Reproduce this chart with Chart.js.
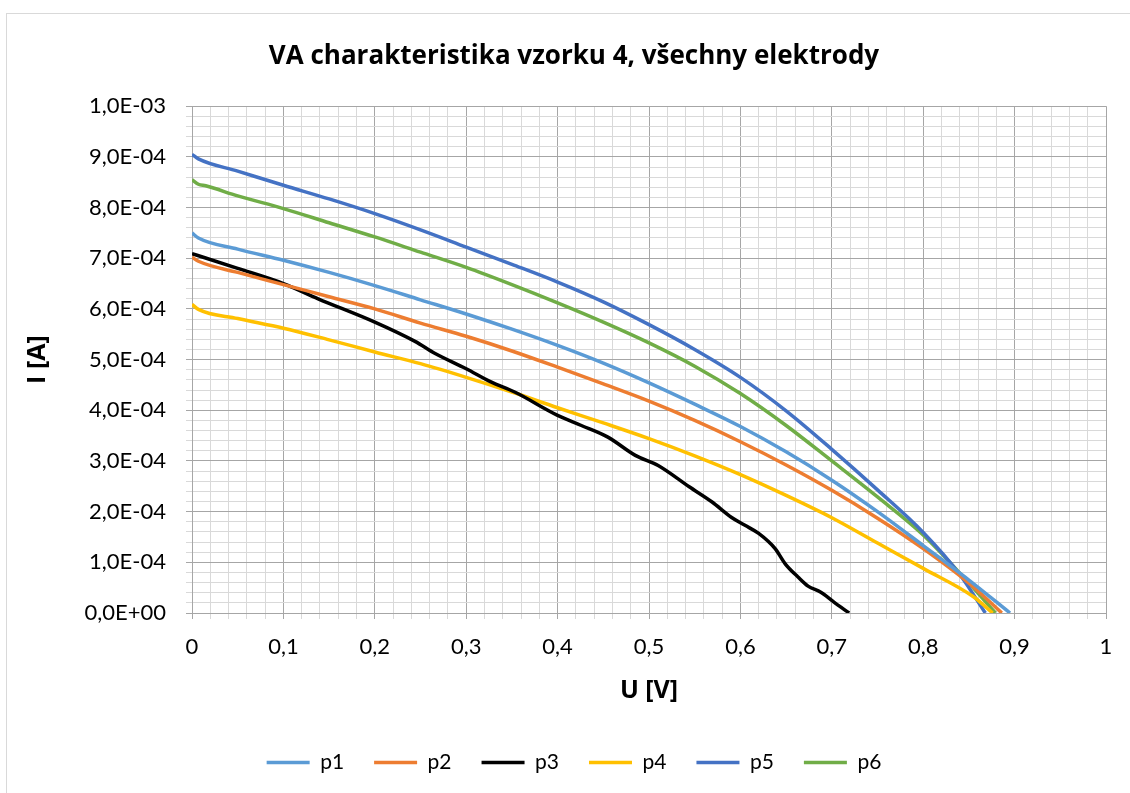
<!DOCTYPE html>
<html>
<head>
<meta charset="utf-8">
<script src="https://cdn.jsdelivr.net/npm/chart.js@4/dist/chart.umd.min.js"></script>
<style>
  html, body { margin: 0; padding: 0; background: #fff; overflow: hidden; }
  #frame { position: absolute; left: 6px; top: 13px; width: 1200px; height: 900px;
           border-left: 1px solid #d9d9d9; border-top: 1px solid #d9d9d9; }
  #chart { position: absolute; left: 0; top: 0; }
</style>
</head>
<body>
<div id="frame"></div>
<canvas id="chart" width="1130" height="793"></canvas>
<script>
// U [V] and I [A]
const U_P1 = [0, 0.007, 0.05, 0.1, 0.15, 0.2, 0.25, 0.3, 0.35, 0.4, 0.45, 0.5, 0.55, 0.6, 0.65, 0.7, 0.75, 0.8, 0.85, 0.895];
const I_P1 = [7.50e-4, 7.40e-4, 7.18e-4, 6.96e-4, 6.72e-4, 6.46e-4, 6.18e-4, 5.90e-4, 5.60e-4, 5.28e-4, 4.93e-4, 4.54e-4, 4.12e-4, 3.68e-4, 3.18e-4, 2.62e-4, 2.00e-4, 1.33e-4, 0.65e-4, 0];

const U_P2 = [0, 0.007, 0.05, 0.1, 0.15, 0.2, 0.25, 0.3, 0.35, 0.4, 0.45, 0.5, 0.55, 0.6, 0.65, 0.7, 0.75, 0.8, 0.85, 0.886];
const I_P2 = [7.02e-4, 6.94e-4, 6.72e-4, 6.48e-4, 6.24e-4, 6.00e-4, 5.72e-4, 5.46e-4, 5.17e-4, 4.85e-4, 4.52e-4, 4.18e-4, 3.80e-4, 3.38e-4, 2.92e-4, 2.42e-4, 1.87e-4, 1.27e-4, 0.59e-4, 0];

const U_P3 = [0, 0.014, 0.05, 0.1, 0.138, 0.2, 0.244, 0.266, 0.3, 0.327, 0.353, 0.4, 0.426, 0.455, 0.485, 0.51, 0.544, 0.569, 0.59, 0.605, 0.62, 0.638, 0.649, 0.663, 0.674, 0.688, 0.702, 0.719];
const I_P3 = [7.09e-4, 7.01e-4, 6.80e-4, 6.50e-4, 6.20e-4, 5.74e-4, 5.36e-4, 5.12e-4, 4.82e-4, 4.56e-4, 4.36e-4, 3.90e-4, 3.70e-4, 3.47e-4, 3.11e-4, 2.91e-4, 2.49e-4, 2.19e-4, 1.89e-4, 1.73e-4, 1.57e-4, 1.27e-4, 0.97e-4, 0.71e-4, 0.53e-4, 0.41e-4, 0.22e-4, 0];

const U_P4 = [0, 0.007, 0.05, 0.1, 0.15, 0.2, 0.25, 0.3, 0.35, 0.4, 0.45, 0.5, 0.55, 0.6, 0.65, 0.7, 0.75, 0.8, 0.855, 0.876];
const I_P4 = [6.09e-4, 5.99e-4, 5.81e-4, 5.62e-4, 5.39e-4, 5.15e-4, 4.92e-4, 4.65e-4, 4.36e-4, 4.05e-4, 3.75e-4, 3.44e-4, 3.10e-4, 2.73e-4, 2.32e-4, 1.88e-4, 1.38e-4, 0.88e-4, 0.32e-4, 0];

const U_P5 = [0, 0.007, 0.05, 0.1, 0.15, 0.2, 0.25, 0.3, 0.35, 0.4, 0.45, 0.5, 0.55, 0.6, 0.65, 0.7, 0.75, 0.8, 0.84, 0.868];
const I_P5 = [9.05e-4, 8.96e-4, 8.72e-4, 8.44e-4, 8.17e-4, 7.88e-4, 7.56e-4, 7.22e-4, 6.88e-4, 6.53e-4, 6.14e-4, 5.69e-4, 5.20e-4, 4.65e-4, 3.99e-4, 3.23e-4, 2.43e-4, 1.59e-4, 0.76e-4, 0];

const U_P6 = [0, 0.007, 0.015, 0.05, 0.1, 0.15, 0.2, 0.25, 0.3, 0.35, 0.4, 0.45, 0.5, 0.55, 0.6, 0.65, 0.7, 0.75, 0.8, 0.85, 0.879];
const I_P6 = [8.55e-4, 8.46e-4, 8.43e-4, 8.23e-4, 7.98e-4, 7.70e-4, 7.42e-4, 7.12e-4, 6.82e-4, 6.48e-4, 6.12e-4, 5.74e-4, 5.33e-4, 4.87e-4, 4.33e-4, 3.70e-4, 3.00e-4, 2.29e-4, 1.54e-4, 0.59e-4, 0];

const seriesNames = ["p1", "p2", "p3", "p4", "p5", "p6"];
const seriesColors = ["#5B9BD5", "#ED7D31", "#000000", "#FFC000", "#4472C4", "#70AD47"];
const seriesU = [U_P1, U_P2, U_P3, U_P4, U_P5, U_P6];
const seriesI = [I_P1, I_P2, I_P3, I_P4, I_P5, I_P6];

// axis ticks: every 5th one is a major (labelled) tick
const xTicks = [];
for (let k = 0; k <= 50; k++) xTicks.push(k / 50);
const yTicks = [];
for (let k = 0; k <= 50; k++) yTicks.push(k * 2e-5);

const MAJOR = "#a6a6a6";
const MINOR = "#d9d9d9";
const FONT = "Lato, 'Open Sans', sans-serif";
const TITLE_FONT = "'Open Sans', Lato, sans-serif";

function xLabel(k) {
	if (k % 5 !== 0) return "";
	const v = k / 50;
	if (v === 0 || v === 1) return String(v);
	return v.toFixed(1).replace(".", ",");
}

function yLabel(v) {
	let s = v.toExponential(1);
	let [m, e] = s.split("e");
	let sign = e[0] === "-" ? "-" : "+";
	e = e.replace(/[-+]/, "");
	if (e.length < 2) e = "0" + e;
	return m.replace(".", ",") + "E" + sign + e;
}

const datasets = seriesNames.map((name, i) => ({
	label: name,
	data: seriesU[i].map((u, j) => ({ x: u, y: seriesI[i][j] })),
	borderColor: seriesColors[i],
	backgroundColor: seriesColors[i],
	borderWidth: 3.5,
	pointRadius: 0,
	cubicInterpolationMode: "monotone",
	fill: false,
}));

const gridColor = (ctx) => (ctx.index % 5 === 0 ? MAJOR : MINOR);

new Chart(document.getElementById("chart"), {
	type: "line",
	data: { datasets },
	options: {
		responsive: false,
		animation: false,
		layout: { padding: { left: 42, right: 24, top: 0, bottom: 10 } },
		plugins: {
			title: {
				display: true,
				text: "VA charakteristika vzorku 4, všechny elektrody",
				color: "#000",
				font: { family: TITLE_FONT, size: 26, weight: "bold" },
				padding: { top: 41, bottom: 34 },
			},
			legend: {
				position: "bottom",
				labels: {
					usePointStyle: true,
					pointStyle: "line",
					pointStyleWidth: 43,
					padding: 30,
					color: "#000",
					font: { family: FONT, size: 21 },
				},
			},
			tooltip: { enabled: false },
		},
		scales: {
			x: {
				type: "linear",
				min: 0,
				max: 1,
				afterBuildTicks: (scale) => { scale.ticks = xTicks.map(v => ({ value: v })); },
				afterFit: (scale) => { scale.height = 109; },
				ticks: {
					autoSkip: false,
					maxRotation: 0,
					padding: 15,
					color: "#000",
					font: { family: FONT, size: 22 },
					callback: (v, k) => xLabel(k),
				},
				grid: { color: gridColor, tickColor: gridColor, tickLength: 6, lineWidth: 1 },
				border: { color: MAJOR },
				title: {
					display: true,
					text: "U [V]",
					color: "#000",
					font: { family: TITLE_FONT, size: 25, weight: "bold" },
					padding: { top: 0, bottom: 16 },
				},
			},
			y: {
				type: "linear",
				min: 0,
				max: 1e-3,
				afterBuildTicks: (scale) => { scale.ticks = yTicks.map(v => ({ value: v })); },
				afterFit: (scale) => { scale.width = 150; },
				ticks: {
					autoSkip: false,
					padding: 20,
					color: "#000",
					font: { family: FONT, size: 22 },
					callback: (v, k) => (k % 5 === 0 ? yLabel(v) : ""),
				},
				grid: { color: gridColor, tickColor: gridColor, tickLength: 6, lineWidth: 1 },
				border: { color: MAJOR },
				title: {
					display: true,
					text: "I [A]",
					color: "#000",
					font: { family: TITLE_FONT, size: 25, weight: "bold" },
					padding: { top: -19, bottom: 0 },
				},
			},
		},
	},
});
</script>
</body>
</html>
